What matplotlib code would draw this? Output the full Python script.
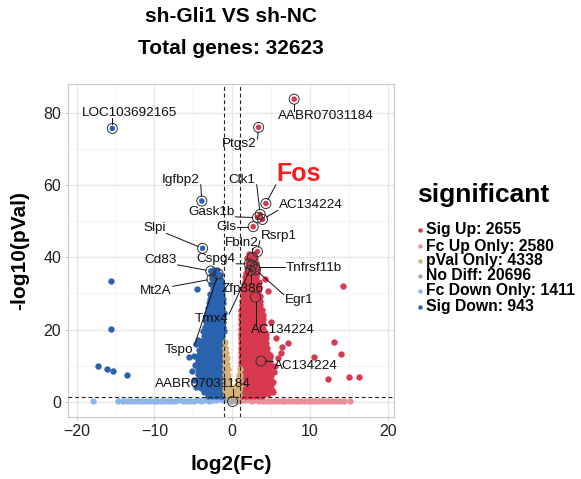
import math
import matplotlib
matplotlib.use("Agg")
import matplotlib.pyplot as plt
from matplotlib.lines import Line2D

plt.rcParams['font.family'] = ['Liberation Sans', 'DejaVu Sans']

# ---------------- data ----------------
title_line1 = "sh-Gli1 VS sh-NC"
title_line2 = "Total genes: 32623"
legend_title = "significant"
categories = ["Sig Up", "Fc Up Only", "pVal Only", "No Diff", "Fc Down Only", "Sig Down"]
category_counts = [2655, 2580, 4338, 20696, 1411, 943]
x_ticks = [-20, -10, 0, 10, 20]
y_ticks = [0, 20, 40, 60, 80]
fc_cut = 1.0
p_cut = 1.30103  # -log10(0.05)

sig_down_rows = [
    (36.4, [-2.4, -2.0]),
    (35.0, [-2.6, -2.1, -1.6]),
    (33.7, [-2.3, -1.9, -1.4]),
    (32.5, [-2.7, -2.2, -1.7, -1.25]),
    (31.2, [-2.5, -2.0, -1.55, -1.15]),
    (29.9, [-2.8, -2.35, -1.85, -1.35]),
    (28.6, [-2.9, -2.4, -1.9, -1.45, -1.15]),
    (27.3, [-3.0, -2.55, -2.05, -1.6, -1.2]),
    (26.0, [-3.15, -2.65, -2.15, -1.7, -1.25]),
    (24.7, [-3.25, -2.8, -2.3, -1.8, -1.35, -1.1]),
    (23.4, [-3.4, -2.9, -2.45, -1.95, -1.5, -1.15]),
    (22.1, [-3.35, -2.85, -2.4, -1.9, -1.45, -1.15]),
    (20.8, [-3.55, -3.05, -2.6, -2.1, -1.6, -1.2]),
    (19.5, [-3.7, -3.2, -2.7, -2.25, -1.75, -1.3, -1.1]),
    (18.2, [-3.65, -3.15, -2.7, -2.2, -1.7, -1.25]),
    (16.9, [-3.9, -3.4, -2.9, -2.45, -1.95, -1.5, -1.15]),
    (15.6, [-4.05, -3.55, -3.05, -2.6, -2.1, -1.6, -1.2]),
    (14.3, [-4.2, -3.7, -3.2, -2.75, -2.25, -1.75, -1.3, -1.1]),
    (13.0, [-4.3, -3.85, -3.35, -2.85, -2.35, -1.9, -1.4, -1.15]),
    (11.7, [-4.45, -3.95, -3.45, -3.0, -2.5, -2.0, -1.5, -1.15]),
    (10.4, [-4.5, -4.05, -3.55, -3.05, -2.55, -2.1, -1.6, -1.2]),
    (9.1, [-4.35, -3.85, -3.4, -2.9, -2.4, -1.95, -1.45, -1.1]),
    (7.8, [-4.45, -3.95, -3.45, -2.95, -2.5, -2.0, -1.5, -1.15]),
    (6.5, [-4.2, -3.7, -3.25, -2.75, -2.25, -1.8, -1.3, -1.1]),
    (5.2, [-4.25, -3.75, -3.3, -2.8, -2.3, -1.85, -1.35, -1.1]),
    (3.9, [-3.95, -3.5, -3.0, -2.5, -2.05, -1.55, -1.15]),
    (2.7, [-3.6, -3.1, -2.65, -2.15, -1.65, -1.2]),
    (1.7, [-3.1, -2.6, -2.1, -1.6, -1.2]),
]
sig_down_extra_x = [-4.5, -4.7, -4.4, -5.6, -4.95, -4.75, -5.2, -4.9, -4.6,
                    -15.6, -15.6, -17.2, -16.1, -15.3, -13.5]
sig_down_extra_y = [31.2, 15.9, 17.0, 12.3, 12.6, 10.3, 8.6, 6.0, 4.0,
                    33.4, 20.2, 10.0, 9.2, 8.5, 7.3]

sig_up_rows = [
    (41.0, [2.2, 2.75]),
    (39.7, [1.95, 2.45, 2.95]),
    (38.4, [2.05, 2.55, 3.05]),
    (37.1, [1.85, 2.35, 2.85, 3.25]),
    (35.8, [1.75, 2.25, 2.75, 3.2]),
    (34.5, [1.7, 2.15, 2.65, 3.1]),
    (33.2, [1.6, 2.05, 2.55, 3.05, 3.4]),
    (31.9, [1.5, 1.95, 2.45, 2.95, 3.4]),
    (30.6, [1.45, 1.9, 2.4, 2.9, 3.35]),
    (29.3, [1.35, 1.85, 2.35, 2.85, 3.3, 3.6]),
    (28.0, [1.3, 1.75, 2.25, 2.75, 3.25, 3.6]),
    (26.7, [1.2, 1.7, 2.2, 2.65, 3.15, 3.6]),
    (25.4, [1.15, 1.6, 2.1, 2.6, 3.05, 3.55, 3.85]),
    (24.1, [1.15, 1.55, 2.05, 2.5, 3.0, 3.5, 3.9]),
    (22.8, [1.15, 1.5, 2.0, 2.5, 2.95, 3.45, 3.9]),
    (21.5, [1.1, 1.5, 1.95, 2.45, 2.95, 3.45, 3.95]),
    (20.2, [1.15, 1.55, 2.05, 2.55, 3.0, 3.5, 4.0]),
    (18.9, [1.1, 1.5, 2.0, 2.5, 2.95, 3.45, 3.95, 4.3]),
    (17.6, [1.15, 1.55, 2.05, 2.55, 3.05, 3.5, 4.0, 4.35]),
    (16.3, [1.1, 1.5, 2.0, 2.45, 2.95, 3.45, 3.95, 4.4]),
    (15.0, [1.15, 1.55, 2.05, 2.55, 3.0, 3.5, 4.0, 4.5]),
    (13.7, [1.1, 1.5, 2.0, 2.5, 2.95, 3.45, 3.95, 4.45]),
    (12.4, [1.15, 1.55, 2.05, 2.5, 3.0, 3.5, 4.0, 4.5, 4.85]),
    (11.1, [1.1, 1.5, 2.0, 2.45, 2.95, 3.45, 3.95, 4.45, 4.9]),
    (9.8, [1.15, 1.55, 2.05, 2.55, 3.0, 3.5, 4.0, 4.5, 4.9]),
    (8.5, [1.1, 1.5, 2.0, 2.5, 2.95, 3.45, 3.95, 4.45, 4.95]),
    (7.2, [1.15, 1.55, 2.05, 2.5, 3.0, 3.5, 4.0, 4.5, 5.0]),
    (5.9, [1.1, 1.5, 2.0, 2.45, 2.95, 3.45, 3.95, 4.45, 4.95]),
    (4.6, [1.15, 1.55, 2.05, 2.55, 3.0, 3.5, 4.0, 4.5, 5.05]),
    (3.3, [1.1, 1.5, 2.0, 2.5, 2.95, 3.45, 3.95, 4.5, 5.1]),
    (2.1, [1.15, 1.55, 2.05, 2.5, 3.0, 3.5, 4.0, 4.6]),
    (1.5, [1.3, 1.8, 2.3, 2.8, 3.3, 3.8]),
]
sig_up_extra_x = [14.3, 13.1, 14.0, 10.5, 12.3, 15.0, 16.3, 7.2, 6.4, 6.3, 4.8, 5.2,
                  5.4, 5.6, 5.9, 5.5, 4.6, 4.2, 5.0, 5.3]
sig_up_extra_y = [32.0, 16.5, 13.2, 12.4, 6.4, 6.8, 7.0, 16.4, 15.1, 13.5, 13.0, 2.7,
                  8.2, 17.6, 12.0, 9.8, 30.6, 34.0, 22.0, 5.5]

fc_down_x = [-17.9, -14.7, -14.0, -13.5, -13.0, -12.5, -12.0, -11.6, -11.1, -10.6,
             -10.1, -9.7, -9.2, -8.7, -8.2, -7.8, -7.3, -6.8, -6.3, -5.9, -5.4,
             -4.9, -4.4, -4.0, -3.5, -3.0, -2.5, -2.1, -1.6, -1.2, -1.7, -1.3]
fc_down_y = [0.1, 0.1, 0.2, 0.1, 0.3, 0.2, 0.1, 0.3, 0.2, 0.1, 0.2, 0.3, 0.1, 0.2,
             0.3, 0.1, 0.2, 0.4, 0.2, 0.1, 0.3, 0.2, 0.4, 0.3, 0.5, 0.3, 0.6, 0.4,
             0.7, 0.5, 1.0, 1.1]
fc_up_x = [1.2, 1.6, 2.1, 2.6, 3.0, 3.5, 4.0, 4.5, 4.9, 5.4, 5.9, 6.4, 6.8, 7.3,
           7.8, 8.3, 8.7, 9.2, 9.7, 10.2, 10.6, 11.1, 11.6, 12.0, 12.5, 13.0, 13.4,
           13.9, 14.4, 15.2, 1.5, 2.2]
fc_up_y = [0.5, 0.6, 0.4, 0.3, 0.5, 0.2, 0.3, 0.1, 0.2, 0.3, 0.1, 0.2, 0.3, 0.1,
           0.2, 0.1, 0.3, 0.2, 0.1, 0.2, 0.3, 0.1, 0.2, 0.1, 0.2, 0.1, 0.3, 0.1,
           0.2, 0.1, 1.0, 0.9]
pval_rows = [
    (16.5, [-0.97]),
    (15.0, [-0.95, -0.86]),
    (13.5, [-0.95, -0.8]),
    (12.0, [-0.95, -0.8, -0.7]),
    (10.5, [-0.95, -0.8, -0.65]),
    (9.0, [-0.95, -0.8, -0.65, -0.55, 0.95]),
    (7.5, [-0.95, -0.8, -0.65, -0.5, 0.95, 0.82]),
    (6.0, [-0.95, -0.8, -0.65, -0.5, -0.4, 0.95, 0.8, 0.7]),
    (4.5, [-0.95, -0.8, -0.65, -0.5, -0.35, 0.95, 0.8, 0.65, 0.55]),
    (3.2, [-0.9, -0.75, -0.6, -0.45, -0.3, -0.2, 0.9, 0.75, 0.6, 0.45, 0.35]),
    (2.0, [-0.85, -0.7, -0.55, -0.4, -0.25, -0.1, 0.15, 0.3, 0.45, 0.6, 0.75, 0.9]),
]
nodiff_x = [-0.7, -0.4, -0.2, 0.3, 0.6, 0.8, -0.85, 0.1]
nodiff_y = [0.4, 0.8, 0.3, 0.6, 0.2, 0.9, 1.0, 1.1]

gene_names = ["LOC103692165", "AABR07031184", "Ptgs2", "Fos", "Clk1", "AC134224",
              "Igfbp2", "Gask1b", "Gls", "Slpi", "Rsrp1", "Fbln2", "Cspg4",
              "Tnfrsf11b", "Cd83", "Mt2A", "Zfp386", "Tmx4", "Egr1", "AC134224",
              "Tspo", "AC134224", "AABR07031184"]
gene_x = [-15.4, 7.97, 3.4, 4.33, 3.6, 3.9, -3.9, 3.25, 2.7, -3.8, 3.25, 2.6, 2.2,
          2.9, -2.75, -2.6, 2.4, 2.55, 3.0, 3.0, -1.8, 3.7, 0.05]
gene_y = [75.7, 83.8, 76.0, 54.9, 51.9, 50.5, 55.6, 51.0, 48.5, 42.5, 41.6, 40.0,
          38.2, 37.3, 36.2, 34.0, 36.4, 37.8, 36.6, 29.0, 35.4, 11.3, 0.1]
gene_cat = ["Sig Down", "Sig Up", "Sig Up", "Sig Up", "Sig Up", "Sig Up",
            "Sig Down", "Sig Up", "Sig Up", "Sig Down", "Sig Up", "Sig Up", "Sig Up",
            "Sig Up", "Sig Down", "Sig Down", "Sig Up", "Sig Up", "Sig Up", "Sig Up",
            "Sig Down", "Sig Up", "No Diff"]

# ---------------- layout / style ----------------
label_pos = [(-13.2, 80.1), (12.0, 79.1), (0.9, 71.4), (8.6, 63.1), (1.3, 61.5),
             (10.1, 54.4), (-6.6, 61.5), (-2.7, 52.6), (-0.8, 48.5), (-10.0, 48.0),
             (6.0, 46.0), (1.3, 44.1), (-2.1, 39.6), (10.5, 37.1), (-9.2, 39.3),
             (-9.8, 30.6), (1.3, 31.3), (-2.7, 22.9), (8.6, 28.3), (6.5, 19.9),
             (-6.8, 14.4), (9.5, 9.8), (-3.8, 4.8)]
colors = {"Sig Up": "#d8394f", "Fc Up Only": "#e9909a", "pVal Only": "#d7b078",
          "No Diff": "#a8a8a8", "Fc Down Only": "#8db5e8", "Sig Down": "#2a62ad"}

W, H = 581, 479
fig = plt.figure(figsize=(W / 100, H / 100), dpi=100)
L, R, T, B = 68, 394, 84, 417
ax = fig.add_axes([L / W, 1 - B / H, (R - L) / W, (B - T) / H])
ax.set_xlim(-21.1, 20.8)
ax.set_ylim(-4.2, 88.0)

def flatten(rows):
    xs, ys = [], []
    for yv, xl in rows:
        for xv in xl:
            xs.append(xv)
            ys.append(yv)
    return xs, ys

pt = 21
sdx, sdy = flatten(sig_down_rows)
sux, suy = flatten(sig_up_rows)
pvx, pvy = flatten(pval_rows)
ax.scatter(nodiff_x, nodiff_y, s=pt, c=colors["No Diff"], lw=0, zorder=2)
ax.scatter(fc_down_x, fc_down_y, s=pt, c=colors["Fc Down Only"], lw=0, zorder=2)
ax.scatter(fc_up_x, fc_up_y, s=pt, c=colors["Fc Up Only"], lw=0, zorder=2)
ax.scatter(sdx + sig_down_extra_x, sdy + sig_down_extra_y, s=pt,
           c=colors["Sig Down"], lw=0, zorder=2)
ax.scatter(sux + sig_up_extra_x, suy + sig_up_extra_y, s=pt,
           c=colors["Sig Up"], lw=0, zorder=2)
ax.scatter(pvx, pvy, s=pt, c=colors["pVal Only"], lw=0, zorder=2.5)

# labelled genes
ax.scatter(gene_x, gene_y, s=16, c=[colors[c] for c in gene_cat], lw=0, zorder=4)
ax.scatter(gene_x, gene_y, s=52, facecolors='none', edgecolors='#333333',
           linewidths=0.7, zorder=5)

# threshold lines
dash = (0, (3.5, 2.5))
ax.axvline(-fc_cut, color='#222222', lw=0.8, ls=dash, zorder=3)
ax.axvline(fc_cut, color='#222222', lw=0.8, ls=dash, zorder=3)
ax.axhline(p_cut, color='#222222', lw=0.8, ls=dash, zorder=3)

# grid / frame
ax.set_xticks(x_ticks)
ax.set_yticks(y_ticks)
ax.set_xticks([-15, -5, 5, 15], minor=True)
ax.set_yticks([10, 30, 50, 70], minor=True)
ax.grid(True, which='major', color='#e6e6e6', lw=0.9, zorder=0)
ax.grid(True, which='minor', color='#f0f0f0', lw=0.5, zorder=0)
ax.set_axisbelow(True)
for sp in ax.spines.values():
    sp.set_color('#c8c8c8')
    sp.set_linewidth(0.8)
ax.tick_params(which='major', length=2.5, width=0.7, color='#bdbdbd',
               labelsize=11.5, labelcolor='#222222', pad=2.5)
ax.tick_params(which='minor', length=0)

ax.set_xlabel("log2(Fc)", fontsize=15, fontweight='bold')
ax.set_ylabel("-log10(pVal)", fontsize=15, fontweight='bold')
ax.xaxis.label.set_va('center')
ax.yaxis.label.set_va('center')
ax.xaxis.set_label_coords(0.5, (B - 465) / (B - T))
ax.yaxis.set_label_coords((20 - L) / (R - L), 0.5)

# titles
cx = (L + R) / 2 / W
fig.text(cx, 1 - 17 / H, title_line1, ha='center', va='center', fontsize=15,
         fontweight='bold')
fig.text(cx, 1 - 49 / H, title_line2, ha='center', va='center', fontsize=15,
         fontweight='bold')

# gene labels
texts = []
for name, (lx, ly) in zip(gene_names, label_pos):
    if name == "Fos":
        t = ax.text(lx, ly, name, ha='center', va='center', fontsize=18,
                    fontweight='bold', color='#ff1a1a', zorder=6)
    else:
        t = ax.text(lx, ly, name, ha='center', va='center', fontsize=9.7,
                    color='#111111', zorder=6)
    texts.append(t)

fig.canvas.draw()
rend = fig.canvas.get_renderer()
inv = ax.transData.inverted()
rad = 4.7
for t, gx, gy in zip(texts, gene_x, gene_y):
    bb = t.get_window_extent(rend)
    px, py = ax.transData.transform((gx, gy))
    x0, x1, y0, y1 = bb.x0 - 1, bb.x1 + 1, bb.y0 + 1, bb.y1 - 1
    qx = min(max(px, x0), x1)
    qy = min(max(py, y0), y1)
    d = math.hypot(qx - px, qy - py)
    if d <= rad + 1:
        continue
    sx = px + (qx - px) * rad / d
    sy = py + (qy - py) * rad / d
    a = inv.transform((sx, sy))
    b = inv.transform((qx, qy))
    ax.add_line(Line2D([a[0], b[0]], [a[1], b[1]], color='#111111', lw=0.7,
                       zorder=5.5))

# legend (drawn manually)
fig.text(417 / W, 1 - 195 / H, legend_title, ha='left', va='center',
         fontsize=19, fontweight='bold')
row_y = [230, 246, 261, 276, 291, 307]
for cat, cnt, yy in zip(categories, category_counts, row_y):
    fig.add_artist(Line2D([420 / W], [1 - yy / H], marker='o', markersize=3.2,
                          markeredgewidth=0, color=colors[cat],
                          transform=fig.transFigure))
    fig.text(426 / W, 1 - yy / H, f"{cat}: {cnt}", ha='left', va='center',
             fontsize=11.3, fontweight='bold')

fig.savefig("out.png", dpi=100)
